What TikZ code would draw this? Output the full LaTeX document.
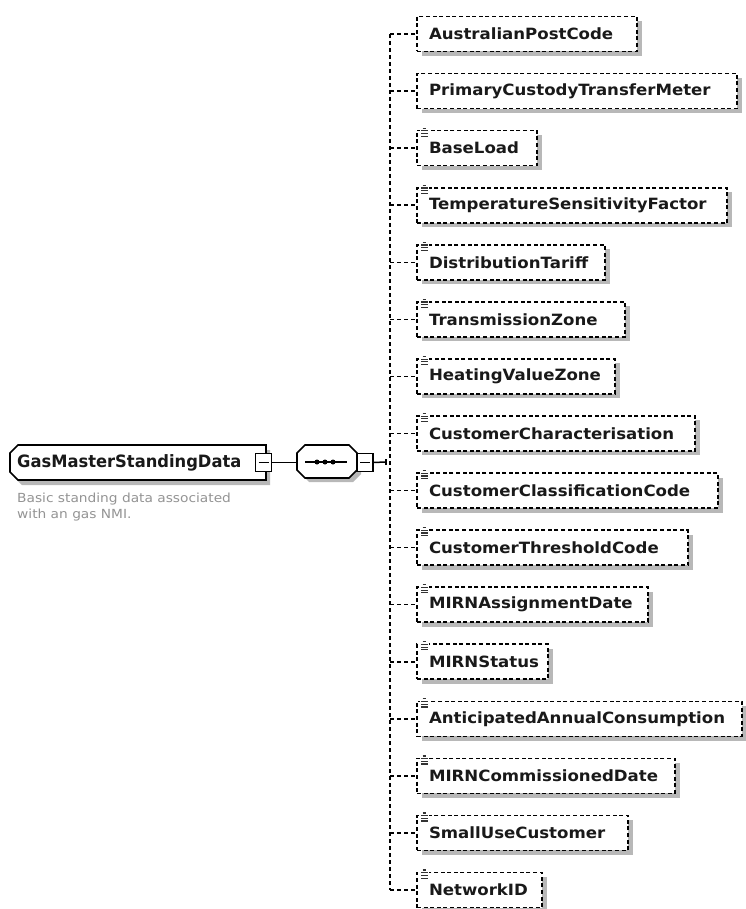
\documentclass[tikz,border=0pt]{standalone}
\usepackage{fontspec}
\setmainfont{DejaVu Sans}
\newfontfamily\childfam[FakeStretch=1.07]{DejaVu Sans}
\newfontfamily\mainfam[FakeStretch=0.96]{DejaVu Sans}
\newfontfamily\descfam[FakeStretch=1.1]{DejaVu Sans}
\newcommand\childfont{\childfam\bfseries\fontsize{15.5}{17}\selectfont}
\newcommand\mainfont{\mainfam\bfseries\fontsize{17}{19}\selectfont}
\newcommand\descfont{\descfam\fontsize{12.5}{16}\selectfont}
\usetikzlibrary{shadows}
\definecolor{shadowgray}{HTML}{B8B8B8}
\definecolor{descgray}{HTML}{949494}
\tikzset{
  childbox/.style={draw=black, fill=white, dash pattern=on 4pt off 2.6pt, line width=1.6pt,
    minimum height=35pt, inner xsep=0pt, inner ysep=0pt, outer sep=0pt, anchor=west,
    align=left, font=\childfont, text=black!90,
    drop shadow={shadow xshift=4.5pt, shadow yshift=-4.5pt, fill=shadowgray, opacity=1}},
  conn/.style={draw=black, line width=1.5pt, dash pattern=on 4pt off 3pt},
  solidconn/.style={draw=black, line width=1.5pt},
  minusbox/.style={draw=black, fill=white, line width=1.5pt, minimum width=16pt,
    minimum height=18pt, inner sep=0pt, outer sep=0pt,
    path picture={\draw[line width=1.2pt] ([xshift=3pt]path picture bounding box.west) -- ([xshift=-3pt]path picture bounding box.east);}},
  iconline/.style={line width=1.2pt, draw=black!80}
}
\begin{document}
\begin{tikzpicture}[x=1pt,y=-1pt]
\useasboundingbox[fill=white] (0,0) rectangle (745,909);

% main element shape
\fill[shadowgray] (14,458) -- (22,450) -- (270,450) -- (270,485) -- (22,485) -- (14,477) -- cycle;
\draw[line width=1.6pt, fill=white] (10,453) -- (18,445) -- (266,445) -- (266,480) -- (18,480) -- (10,472) -- cycle;
\node[anchor=west, font=\mainfont, inner sep=0pt, text=black!90] (main) at (17,462.5) {GasMasterStandingData};
\node[minusbox] (m1) at (263.5,462.5) {};

% description
\node[anchor=north west, align=left, font=\descfont, text=descgray, inner sep=0pt] (desc) at (17,493) {Basic standing data associated\\with an gas NMI.};

% sequence compositor
\fill[shadowgray] (301,457) -- (309,449) -- (353,449) -- (361,457) -- (361,474) -- (353,482) -- (309,482) -- (301,474) -- cycle;
\draw[line width=1.6pt, fill=white] (297,453) -- (305,445) -- (349,445) -- (357,453) -- (357,470) -- (349,478) -- (305,478) -- (297,470) -- cycle;
\node[minimum width=60pt, minimum height=33pt, inner sep=0pt, outer sep=0pt] (seq) at (327,461.5) {};
\draw[line width=1.5pt] (305,462) -- (347,462);
\foreach \dx in {317,325,333} \fill (\dx,462) circle (2.5pt);
\node[minusbox] (m2) at (365,462.5) {};

\draw[solidconn] (m1.east) -- (m1.east -| seq.west);
\coordinate (bus) at (390,462);
\coordinate (tick) at (386,462);
\draw[solidconn] (m2.east) -- (tick);
\draw[line width=1.3pt] ([yshift=-3pt]tick) -- ([yshift=3pt]tick);

% children
\foreach \i/\t/\r/\ic in {
  0/AustralianPostCode/637/0,
  1/PrimaryCustodyTransferMeter/737/0,
  2/BaseLoad/537/1,
  3/TemperatureSensitivityFactor/727/1,
  4/DistributionTariff/605/1,
  5/TransmissionZone/625/1,
  6/HeatingValueZone/615/1,
  7/CustomerCharacterisation/695/1,
  8/CustomerClassificationCode/718/1,
  9/CustomerThresholdCode/688/1,
  10/MIRNAssignmentDate/648/1,
  11/MIRNStatus/548/1,
  12/AnticipatedAnnualConsumption/742/1,
  13/MIRNCommissionedDate/675/1,
  14/SmallUseCustomer/628/1,
  15/NetworkID/542/1}{
  \pgfmathsetmacro\w{\r-417}
  \pgfmathsetmacro\cy{34+57.07*\i}
  \node[childbox, text width=\w pt] (c\i) at (417,\cy) {\hspace*{12pt}\t};
  \draw[conn] (c\i.west -| bus) -- (c\i.west);
  \ifnum\ic=1
    \fill[white] ([shift={(3,-4)}]c\i.north west) rectangle ([shift={(11.5,7)}]c\i.north west);
    \draw[iconline] ([shift={(5.5,-2.5)}]c\i.north west) -- ([shift={(9,-2.5)}]c\i.north west);
    \draw[iconline] ([shift={(4,0.2)}]c\i.north west) -- ([shift={(10.5,0.2)}]c\i.north west);
    \draw[iconline] ([shift={(4,2.9)}]c\i.north west) -- ([shift={(10.5,2.9)}]c\i.north west);
    \draw[iconline] ([shift={(4,5.6)}]c\i.north west) -- ([shift={(10.5,5.6)}]c\i.north west);
  \fi
}
\draw[conn] (c0.west -| bus) -- (c15.west -| bus);
\end{tikzpicture}
\end{document}
